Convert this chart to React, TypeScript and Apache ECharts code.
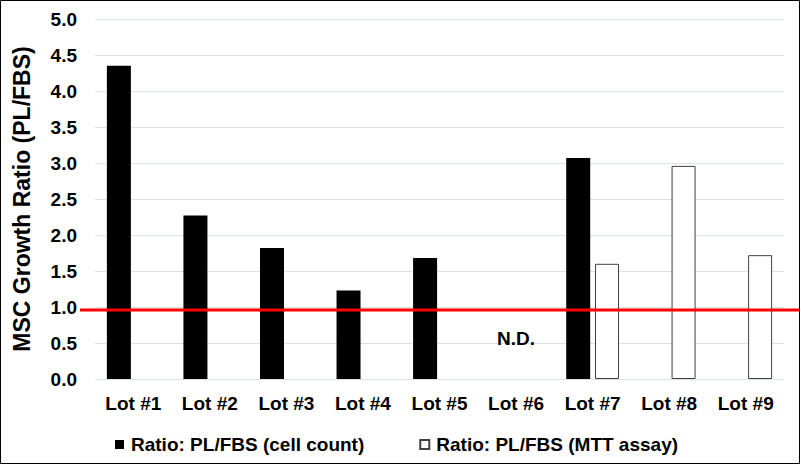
import React, { useEffect, useRef } from "react";
import * as echarts from "echarts";

const categories = ["Lot #1", "Lot #2", "Lot #3", "Lot #4", "Lot #5", "Lot #6", "Lot #7", "Lot #8", "Lot #9"];
const cellCount = [4.35, 2.27, 1.82, 1.23, 1.68, null, 3.07, null, null];
const mttAssay = [null, null, null, null, null, null, 1.6, 2.96, 1.72];
const seriesNames = ["Ratio: PL/FBS (cell count)", "Ratio: PL/FBS (MTT assay)"];
const referenceValue = 0.96;
const ndLabel = { category: "Lot #6", value: 0.56, text: "N.D." };

const FONT = "'Liberation Sans', Arial, sans-serif";

export default function App() {
  const ref = useRef<HTMLDivElement>(null);
  useEffect(() => {
    document.body.style.margin = "0";
    const chart = echarts.init(ref.current!, null, { renderer: "svg" });
    chart.setOption({
      animation: false,
      backgroundColor: "#ffffff",
      grid: { left: 95, right: 16, top: 19, bottom: 85 },
      legend: {
        left: 110,
        top: 430,
        itemWidth: 9,
        itemHeight: 9,
        itemGap: 55,
        icon: "rect",
        textStyle: { fontFamily: FONT, fontWeight: "bold", fontSize: 19, color: "#000", padding: [0, 0, 0, 2] },
        data: seriesNames,
      },
      xAxis: {
        type: "category",
        data: categories,
        axisLine: { show: false },
        axisTick: { show: false },
        axisLabel: { margin: 15, fontFamily: FONT, fontWeight: "bold", fontSize: 19, color: "#000" },
      },
      yAxis: {
        type: "value",
        min: 0,
        max: 5,
        interval: 0.5,
        name: "MSC Growth Ratio (PL/FBS)",
        nameLocation: "middle",
        nameGap: 62,
        nameTextStyle: { fontFamily: FONT, fontWeight: "bold", fontSize: 23, color: "#000" },
        axisLine: { show: false },
        axisTick: { show: false },
        axisLabel: {
          margin: 18,
          fontFamily: FONT,
          fontWeight: "bold",
          fontSize: 19,
          color: "#000",
          formatter: (v: number) => v.toFixed(1),
        },
        splitLine: { lineStyle: { color: "#d9e1ed", width: 1 } },
      },
      series: [
        {
          name: seriesNames[0],
          type: "bar",
          data: cellCount,
          barWidth: 24,
          barGap: "20%",
          itemStyle: { color: "#000000" },
        },
        {
          name: seriesNames[1],
          type: "bar",
          data: mttAssay,
          barWidth: 24,
          itemStyle: { color: "#ffffff", borderColor: "#404040", borderWidth: 1 },
        },
      ],
    });
    const yRef = chart.convertToPixel({ yAxisIndex: 0 }, referenceValue) as number;
    const nd = chart.convertToPixel({ gridIndex: 0 }, [ndLabel.category, ndLabel.value]) as number[];
    chart.setOption({
      graphic: [
        {
          type: "line",
          z: 100,
          shape: { x1: 80, y1: yRef, x2: 800, y2: yRef },
          style: { stroke: "#ff0000", lineWidth: 3 },
        },
        {
          type: "text",
          x: nd[0],
          y: nd[1],
          style: {
            text: ndLabel.text,
            fontFamily: FONT,
            fontWeight: "bold",
            fontSize: 19,
            fill: "#000",
            align: "center",
            verticalAlign: "middle",
          },
        },
        {
          type: "rect",
          z: 101,
          shape: { x: 0.5, y: 0.5, width: 799, height: 463 },
          style: { fill: "none", stroke: "#000", lineWidth: 1 },
        },
      ],
    });
    return () => chart.dispose();
  }, []);
  return <div ref={ref} style={{ width: 800, height: 464 }} />;
}
